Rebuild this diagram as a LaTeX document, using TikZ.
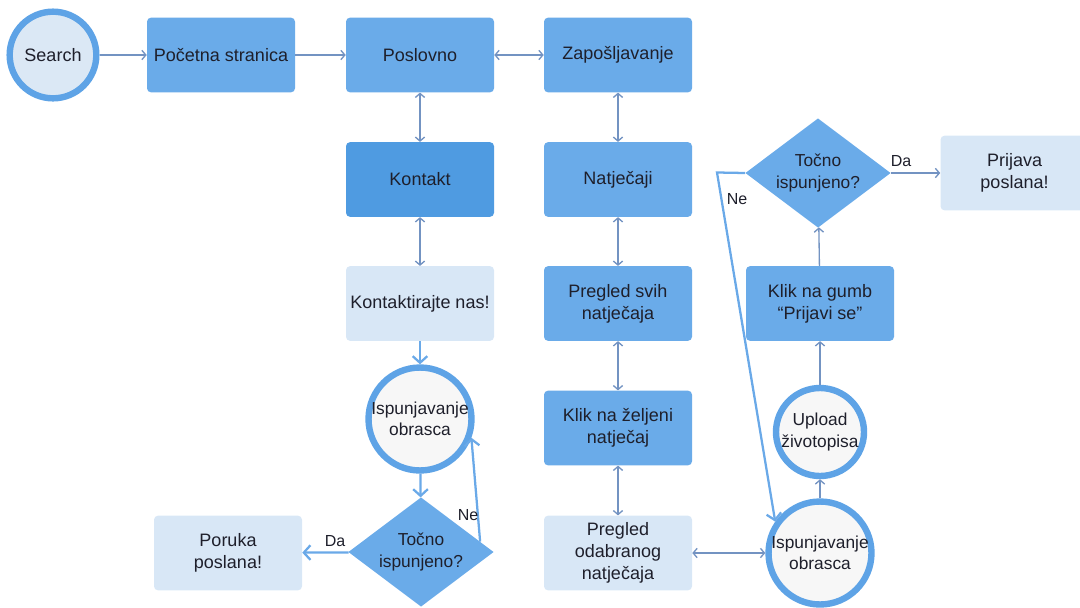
\documentclass[tikz,border=0pt]{standalone}
\usepackage{fontspec}
\setmainfont{Liberation Sans}
\usetikzlibrary{arrows.meta}
\usetikzlibrary{shapes.geometric}

\definecolor{boxblue}{HTML}{6AABE9}
\definecolor{boxdark}{HTML}{4F9BE1}
\definecolor{boxlight}{HTML}{D8E7F6}
\definecolor{ringblue}{HTML}{5EA3E6}
\definecolor{ringfill}{HTML}{F7F7F7}
\definecolor{searchfill}{HTML}{DBE8F5}
\definecolor{linkgray}{HTML}{7393C2}
\definecolor{flowblue}{HTML}{6AA9E8}
\definecolor{txt}{HTML}{1E1F2B}

\begin{document}
\begin{tikzpicture}[x=0.75pt,y=-0.75pt,
    box/.style={rectangle, rounded corners=3pt, minimum width=111pt, minimum height=56pt,
      inner sep=2pt, align=center, text=txt, font=\fontsize{13.5}{16.5}\selectfont},
    mid/.style={box, fill=boxblue},
    dark/.style={box, fill=boxdark},
    light/.style={box, fill=boxlight},
    state/.style={circle, draw=ringblue, line width=4.8pt, fill=ringfill, minimum size=66pt,
      inner sep=0pt, align=center, text=txt, font=\fontsize{13}{16}\selectfont},
    check/.style={diamond, fill=boxblue, aspect=1.33, inner sep=0pt, minimum width=109pt,
      minimum height=82pt, align=center, text=txt, font=\fontsize{13}{16}\selectfont},
    link/.style={draw=linkgray, line width=1pt, -{Straight Barb[length=3pt,width=7pt]}},
    twoway/.style={link, {Straight Barb[length=3pt,width=7pt]}-{Straight Barb[length=3pt,width=7pt]}},
    flow/.style={draw=flowblue, line width=1.7pt, -{Straight Barb[length=5pt,width=11pt]}},
    lbl/.style={text=txt, font=\fontsize{12}{14}\selectfont}]
      \useasboundingbox (0,0) rectangle (1080,607);
      % top row
      \node[state, fill=searchfill, minimum size=65pt, font=\fontsize{13.5}{16.5}\selectfont] (search) at (53,55) {Search};
      \node[mid] (pocetna) at (221,55) {Početna stranica};
      \node[mid] (poslovno) at (420,55) {Poslovno};
      \node[mid] (zaposljavanje) at (618,55) {Zapošljavanje};
      % contact branch
      \node[dark] (kontakt) at (420,179.5) {Kontakt};
      \node[light] (kontaktnas) at (420,303.5) {Kontaktirajte nas!};
      \node[state] (obrazac1) at (420,419) {Ispunjavanje\\obrasca};
      \node[check] (provjera1) at (421,552) {Točno\\ispunjeno?};
      \node[light] (poruka) at (228,553) {Poruka\\poslana!};
      % job branch
      \node[mid] (natjecaji) at (618,179.5) {Natječaji};
      \node[mid] (pregledsvi) at (618,303.5) {Pregled svih\\natječaja};
      \node[mid] (klikzeljeni) at (618,428) {Klik na željeni\\natječaj};
      \node[light] (pregledodab) at (618,553) {Pregled\\odabranog\\natječaja};
      \node[state] (obrazac2) at (820,553) {Ispunjavanje\\obrasca};
      \node[state] (upload) at (820,432) {Upload\\životopisa};
      \node[mid] (klikgumb) at (820,303.5) {Klik na gumb\\“Prijavi se”};
      \node[check] (provjera2) at (818,173) {Točno\\ispunjeno?};
      \node[light] (prijava) at (1014.5,173) {Prijava\\poslana!};
      \coordinate (skretanje) at (717,172.5);

      \draw[link] (search) -- (pocetna);
      \draw[link] (pocetna) -- (poslovno);
      \draw[twoway] (poslovno) -- (zaposljavanje);
      \draw[twoway] (poslovno) -- (kontakt);
      \draw[twoway] (kontakt) -- (kontaktnas);
      \draw[twoway] (zaposljavanje) -- (natjecaji);
      \draw[twoway] (natjecaji) -- (pregledsvi);
      \draw[twoway] (pregledsvi) -- (klikzeljeni);
      \draw[twoway] (klikzeljeni) -- (pregledodab);
      \draw[twoway] (pregledodab) -- (obrazac2);
      \draw[link] (obrazac2) -- (upload);
      \draw[link] (upload) -- (klikgumb);
      \draw[link] (klikgumb) -- (provjera2);
      \draw[link] (provjera2) -- (prijava);
      \draw[flow] (kontaktnas) -- (obrazac1);
      \draw[flow] (obrazac1) -- (provjera1);
      \draw[flow] (provjera1) -- (poruka);
      \draw[flow] (provjera1.10) -- (obrazac1.-20);
      \draw[flow] (provjera2.west) -- (skretanje) -- (obrazac2.145);

      \node[lbl] (da1) at (335,541) {Da};
      \node[lbl] (ne1) at (468,515) {Ne};
      \node[lbl] (da2) at (901,161) {Da};
      \node[lbl] (ne2) at (737,199) {Ne};
    \end{tikzpicture}
\end{document}
